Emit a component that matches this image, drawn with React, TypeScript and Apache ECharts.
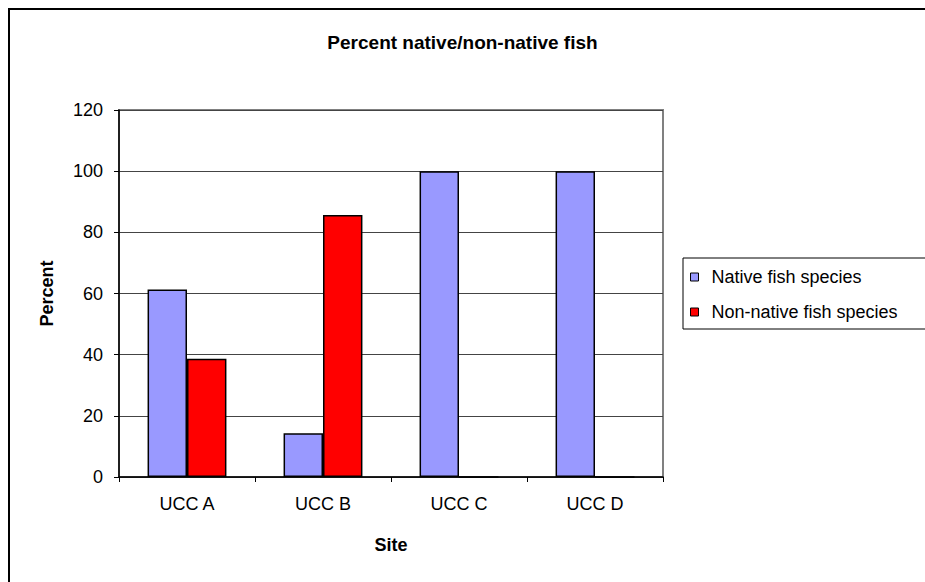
import React, { useEffect, useRef } from "react";
import * as echarts from "echarts";

const categories = ["UCC A", "UCC B", "UCC C", "UCC D"];
const nativeValues = [61.3, 14.3, 100, 100];
const nonNativeValues = [38.7, 85.7, 0, 0];
const seriesNames = ["Native fish species", "Non-native fish species"];
const titleText = "Percent native/non-native fish";
const xAxisName = "Site";
const yAxisName = "Percent";

const FONT = "'Liberation Sans', Arial, sans-serif";

export default function App() {
  const ref = useRef<HTMLDivElement>(null);
  useEffect(() => {
    if (!ref.current) return;
    const chart = echarts.init(ref.current, null, { renderer: "svg" });
    chart.setOption({
      animation: false,
      backgroundColor: "#ffffff",
      textStyle: { fontFamily: FONT, color: "#000" },
      graphic: [
        {
          type: "rect",
          shape: { x: 9, y: 9, width: 1000, height: 1000 },
          style: { fill: "none", stroke: "#000", lineWidth: 2 },
          silent: true,
        },
      ],
      title: {
        text: titleText,
        left: "center",
        top: 33,
        padding: 0,
        textStyle: { fontFamily: FONT, fontSize: 19, fontWeight: "bold", color: "#000" },
      },
      legend: {
        orient: "vertical",
        left: 683,
        top: 258,
        padding: [10, 60, 8, 7],
        itemGap: 17,
        itemWidth: 8,
        itemHeight: 8,
        icon: "rect",
        borderColor: "#000",
        borderWidth: 1,
        backgroundColor: "#fff",
        itemStyle: { borderColor: "#000", borderWidth: 1 },
        textStyle: {
          fontFamily: FONT,
          fontSize: 18,
          lineHeight: 18,
          color: "#000",
          padding: [0, 0, 0, 8],
        },
        data: seriesNames,
      },
      grid: {
        left: 119,
        top: 110,
        width: 544,
        height: 367,
        show: true,
        borderColor: "#808080",
        borderWidth: 2,
        backgroundColor: "transparent",
      },
      xAxis: {
        type: "category",
        data: categories,
        boundaryGap: true,
        name: xAxisName,
        nameLocation: "middle",
        nameGap: 59,
        nameTextStyle: { fontFamily: FONT, fontSize: 18, fontWeight: "bold", color: "#000" },
        axisLine: { show: true, lineStyle: { color: "#000", width: 1.5 } },
        axisTick: { show: true, alignWithLabel: false, length: 5, lineStyle: { color: "#000", width: 1 } },
        axisLabel: { fontFamily: FONT, fontSize: 18, color: "#000", margin: 18 },
        splitLine: { show: false },
      },
      yAxis: {
        type: "value",
        min: 0,
        max: 120,
        interval: 20,
        name: yAxisName,
        nameLocation: "middle",
        nameRotate: 90,
        nameGap: 63,
        nameTextStyle: { fontFamily: FONT, fontSize: 18, fontWeight: "bold", color: "#000" },
        axisLine: { show: true, lineStyle: { color: "#000", width: 1.5 } },
        axisTick: { show: true, length: 5, lineStyle: { color: "#000", width: 1 } },
        axisLabel: { fontFamily: FONT, fontSize: 18, color: "#000", margin: 16 },
        splitLine: { show: true, lineStyle: { color: "#444", width: 1 } },
      },
      series: [
        {
          name: seriesNames[0],
          type: "bar",
          data: nativeValues,
          barGap: "0%",
          barCategoryGap: "42%",
          itemStyle: { color: "#9999FF", borderColor: "#000", borderWidth: 1.5 },
        },
        {
          name: seriesNames[1],
          type: "bar",
          data: nonNativeValues,
          barGap: "0%",
          barCategoryGap: "42%",
          itemStyle: { color: "#FF0000", borderColor: "#000", borderWidth: 1.5 },
        },
      ],
    });
    return () => chart.dispose();
  }, []);
  return (
    <div
      ref={ref}
      style={{ position: "fixed", left: 0, top: 0, width: 925, height: 582, background: "#fff" }}
    />
  );
}
